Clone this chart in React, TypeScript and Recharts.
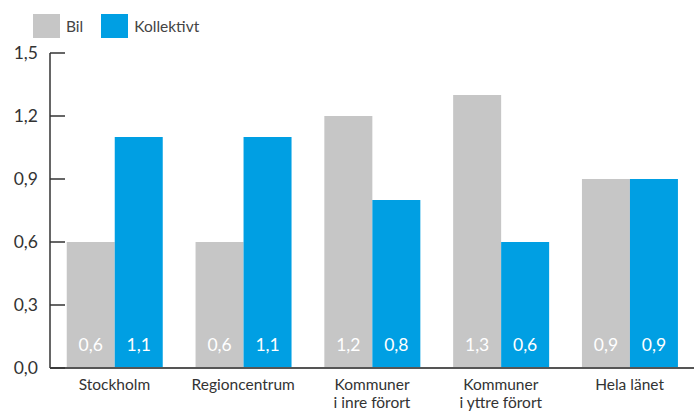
import React from "react";
import { BarChart, Bar, XAxis, YAxis, LabelList } from "recharts";

const categories = ["Stockholm", "Regioncentrum", "Kommuner\ni inre förort", "Kommuner\ni yttre förort", "Hela länet"];
const bil = [0.6, 0.6, 1.2, 1.3, 0.9];
const kollektivt = [1.1, 1.1, 0.8, 0.6, 0.9];
const yTicks = [0, 0.3, 0.6, 0.9, 1.2, 1.5];

const GRAY = "#c6c6c6";
const BLUE = "#009fe3";
const FONT = "Lato, 'Open Sans', sans-serif";

const data = categories.map((c, i) => ({ name: c, bil: bil[i], kollektivt: kollektivt[i] }));
const fmt = (v: number) => v.toFixed(1).replace(".", ",");

const YTick = (props: any) => {
  const { x, y, payload } = props;
  return (
    <g>
      <line x1={x} x2={x + 15} y1={y} y2={y} stroke="#333" strokeWidth={1.5} />
      <text x={x - 12} y={y} dy={6} textAnchor="end" fontSize={17.5} fill="#333" fontFamily={FONT}>
        {fmt(payload.value)}
      </text>
    </g>
  );
};

const XTick = (props: any) => {
  const { x, y, payload } = props;
  const lines = String(payload.value).split("\n");
  return (
    <text x={x} y={y} textAnchor="middle" fontSize={15.5} fill="#333" fontFamily={FONT}>
      {lines.map((l, i) => (
        <tspan key={i} x={x} dy={i === 0 ? 20 : 18}>
          {l}
        </tspan>
      ))}
    </text>
  );
};

const LegendBox = () => (
  <div
    style={{
      position: "absolute",
      top: 14,
      left: 33,
      display: "flex",
      alignItems: "center",
      fontFamily: FONT,
      fontSize: 15.5,
      color: "#444",
      zIndex: 2,
    }}
  >
    <span style={{ display: "inline-block", width: 27, height: 24, background: GRAY }} />
    <span style={{ marginLeft: 6, marginRight: 18 }}>Bil</span>
    <span style={{ display: "inline-block", width: 27, height: 24, background: BLUE }} />
    <span style={{ marginLeft: 6 }}>Kollektivt</span>
  </div>
);

export default function App() {
  return (
    <div style={{ position: "absolute", left: 0, top: 0, width: 694, height: 414, background: "#fff" }}>
      <LegendBox />
      <BarChart
        width={694}
        height={414}
        data={data}
        margin={{ top: 53, right: 0, bottom: 0, left: 0 }}
        barCategoryGap="13%"
        barGap={0}
      >
        <YAxis
          domain={[0, 1.5]}
          ticks={yTicks}
          width={50}
          tickSize={0}
          tickMargin={0}
          tickLine={false}
          tick={<YTick />}
          axisLine={{ stroke: "#333", strokeWidth: 1.5 }}
          interval={0}
        />
        <XAxis
          dataKey="name"
          height={46}
          tickLine={false}
          tickSize={0}
          tick={<XTick />}
          axisLine={{ stroke: "#555", strokeWidth: 2 }}
          interval={0}
        />
        <Bar dataKey="bil" fill={GRAY} isAnimationActive={false}>
          <LabelList
            dataKey="bil"
            position="insideBottom"
            offset={17}
            formatter={(v: any) => fmt(Number(v))}
            fill="#fff"
            fontSize={17.5}
            fontFamily={FONT}
          />
        </Bar>
        <Bar dataKey="kollektivt" fill={BLUE} isAnimationActive={false}>
          <LabelList
            dataKey="kollektivt"
            position="insideBottom"
            offset={17}
            formatter={(v: any) => fmt(Number(v))}
            fill="#fff"
            fontSize={17.5}
            fontFamily={FONT}
          />
        </Bar>
      </BarChart>
    </div>
  );
}
